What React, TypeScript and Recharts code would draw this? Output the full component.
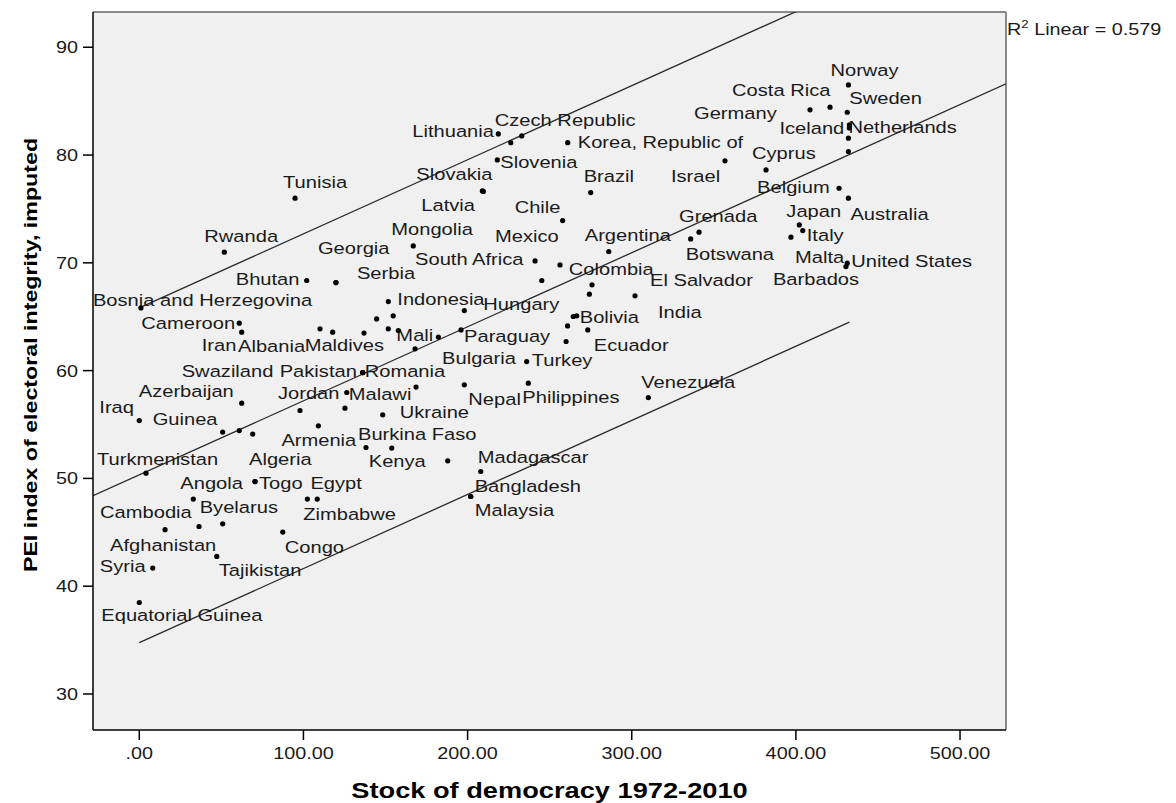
import { ScatterChart, Scatter, XAxis, YAxis, CartesianGrid, ReferenceLine } from "recharts";

const FONT = "'Liberation Sans', Arial, sans-serif";
const SX = 1.22; // the source renders text noticeably wider than Arial

// countries, in the same order as the two value arrays ("" = dot without a label)
const countries = [
    "Tunisia", "Rwanda", "Lithuania", "Czech Republic", "Slovenia", "Korea, Republic of", "Slovakia", "Latvia",
    "Brazil", "Israel", "Cyprus", "Chile", "Grenada", "Botswana", "Argentina", "South Africa",
    "Mexico", "Colombia", "El Salvador", "India", "Bolivia", "Ecuador", "Turkey", "Hungary",
    "Paraguay", "Mali", "Bulgaria", "Indonesia", "Mongolia", "Georgia", "Serbia", "Bhutan",
    "Bosnia and Herzegovina", "Cameroon", "Iran", "Albania", "Maldives", "Pakistan", "Romania", "Swaziland",
    "Azerbaijan", "Jordan", "Malawi", "Ukraine", "Nepal", "Philippines", "Venezuela", "Iraq",
    "Guinea", "Armenia", "Burkina Faso", "Kenya", "Madagascar", "Bangladesh", "Malaysia", "Turkmenistan",
    "Algeria", "Togo", "Angola", "Egypt", "Zimbabwe", "Cambodia", "Byelarus", "Afghanistan",
    "Congo", "Tajikistan", "Syria", "Equatorial Guinea", "Norway", "Costa Rica", "Germany", "Sweden",
    "Iceland", "Netherlands", "Belgium", "Australia", "Japan", "Italy", "Malta", "United States",
    "Barbados",
    "", "", "", "", "", "", "", "", "", "", "", "", "", "", "", "", "",
];

const stockOfDemocracy = [
    94.9, 51.8, 218.7, 233.0, 218.1, 261.0, 209.0, 209.6,
    275.0, 356.8, 381.8, 257.9, 341.0, 335.9, 286.0, 241.1,
    256.3, 245.2, 275.8, 302.0, 266.5, 273.2, 236.0, 198.0,
    196.0, 182.2, 168.0, 151.7, 166.9, 119.8, 119.8, 102.0,
    1.0, 60.9, 62.4, 110.1, 117.8, 136.1, 136.1, 136.1,
    62.4, 97.9, 126.4, 148.3, 198.0, 237.0, 310.1, 0.0,
    50.8, 109.1, 138.1, 187.9, 208.0, 201.9, 201.9, 4.1,
    70.5, 70.5, 32.9, 102.4, 108.4, 15.7, 50.8, 36.4,
    87.4, 47.2, 8.2, 0.0, 432.0, 420.8, 408.6, 431.3,
    432.6, 432.6, 426.3, 432.0, 402.1, 404.2, 397.0, 431.3,
    430.5,
    226.3, 274.2, 264.4, 260.9, 260.0, 154.7, 151.7, 157.8, 144.6, 136.9, 168.6, 125.3, 60.9, 69.1, 153.8, 432.0, 432.0,
];

const peiIndex = [
    76.0, 70.99, 81.96, 81.77, 79.55, 81.15, 76.67, 76.62,
    76.52, 79.46, 78.62, 73.92, 72.84, 72.22, 71.04, 70.18,
    69.81, 68.36, 67.96, 66.94, 65.08, 63.78, 60.84, 65.57,
    63.78, 63.11, 62.02, 66.41, 71.57, 68.17, 68.17, 68.36,
    65.82, 64.4, 63.57, 63.88, 63.57, 59.82, 59.82, 59.82,
    56.98, 56.3, 57.97, 55.9, 58.68, 58.84, 57.5, 55.37,
    54.3, 54.88, 52.87, 51.63, 50.64, 48.32, 48.32, 50.49,
    49.71, 49.71, 48.08, 48.08, 48.08, 45.24, 45.79, 45.54,
    45.02, 42.76, 41.68, 38.49, 86.5, 84.44, 84.19, 83.97,
    82.79, 82.52, 76.92, 76.0, 73.52, 72.99, 72.38, 69.97,
    69.65,
    81.15, 67.09, 65.02, 64.15, 62.7, 65.08, 63.88, 63.72, 64.8, 63.48, 58.47, 56.52, 54.44, 54.11, 52.81, 81.56, 80.32,
];

const xTicks = [0, 100, 200, 300, 400, 500];
const yTicks = [30, 40, 50, 60, 70, 80, 90];
const xDomain = [-28.2, 528];
const yDomain = [26.66, 93.27];

// fit line and the two prediction bounds (end points)
const fitLine = [{ x: -28.2, y: 48.39 }, { x: 528, y: 86.6 }];
const upperBound = [{ x: 0, y: 65.82 }, { x: 432.6, y: 95.54 }];
const lowerBound = [{ x: 0, y: 34.76 }, { x: 432.6, y: 64.5 }];

const rSquared = 0.579;

// where each country label sits relative to its dot (px, left edge / baseline)
const labelOffset: Record<string, [number, number]> = {
    "Tunisia": [-12, -10], "Rwanda": [-20, -10], "Lithuania": [-86, 3], "Czech Republic": [-27, -10],
    "Slovenia": [3, 8], "Korea, Republic of": [10, 5], "Slovakia": [-66, -11], "Latvia": [-62, 20],
    "Brazil": [-7, -11], "Israel": [-54, 21], "Cyprus": [-14, -11], "Chile": [-48, -8],
    "Grenada": [-20, -10], "Botswana": [-5, 21], "Argentina": [-24, -11], "South Africa": [-120, 4],
    "Mexico": [-65, -23], "Colombia": [27, -6], "El Salvador": [58, 1], "India": [23, 22],
    "Bolivia": [3, 7], "Ecuador": [6, 21], "Turkey": [5, 4], "Hungary": [19, -1],
    "Paraguay": [3, 12], "Mali": [-42, 4], "Bulgaria": [27, 15], "Indonesia": [9, 3],
    "Mongolia": [-22, -11], "Georgia": [-18, -29], "Serbia": [21, -4], "Bhutan": [-71, 4],
    "Bosnia and Herzegovina": [-48, -2], "Cameroon": [-98, 6], "Iran": [-40, 19], "Albania": [-82, 23],
    "Maldives": [-28, 19], "Pakistan": [-83, 4], "Romania": [2, 4], "Swaziland": [-181, 4],
    "Azerbaijan": [-103, -6], "Jordan": [-22, -12], "Malawi": [2, 7], "Ukraine": [17, 3],
    "Nepal": [4, 20], "Philippines": [-6, 20], "Venezuela": [-7, -10], "Iraq": [-40, -8],
    "Guinea": [-70, -7], "Armenia": [-37, 20], "Burkina Faso": [-8, -7], "Kenya": [-79, 6],
    "Madagascar": [-3, -9], "Bangladesh": [4, -5], "Malaysia": [4, 19], "Turkmenistan": [-49, -8],
    "Algeria": [-6, -17], "Togo": [4, 7], "Angola": [-13, -10], "Egypt": [3, -10],
    "Zimbabwe": [-14, 21], "Cambodia": [-65, -12], "Byelarus": [-23, -11], "Afghanistan": [-89, 25],
    "Congo": [2, 21], "Tajikistan": [2, 20], "Syria": [-53, 4], "Equatorial Guinea": [-38, 19],
    "Norway": [-18, -9], "Costa Rica": [-98, -11], "Germany": [-116, 9], "Sweden": [2, -8],
    "Iceland": [-70, 9], "Netherlands": [-1, 5], "Belgium": [-82, 5], "Australia": [2, 22],
    "Japan": [-13, -8], "Italy": [4, 10], "Malta": [4, 26], "United States": [4, 4],
    "Barbados": [-73, 18],
};

const points = countries.map((name, i) => ({ name, x: stockOfDemocracy[i], y: peiIndex[i] }));

function CountryDot(props: any) {
    const { cx, cy, payload } = props;
    const off = labelOffset[payload.name];
    return (
        <g>
            <circle cx={cx} cy={cy} r={2.6} fill="#000" />
            {off && (
                <text transform={`translate(${cx + off[0]},${cy + off[1]}) scale(${SX},1)`} fontSize={16.5} fontFamily={FONT} fill="#1a1a1a">
                    {payload.name}
                </text>
            )}
        </g>
    );
}

function XTick({ x, y, payload }: any) {
    const v = payload.value;
    return (
        <text transform={`translate(${x},${y + 17}) scale(1.2,1)`} textAnchor="middle" fontSize={16.5} fontFamily={FONT} fill="#1a1a1a">
            {v === 0 ? ".00" : v.toFixed(2)}
        </text>
    );
}

function YTick({ x, y, payload }: any) {
    return (
        <text transform={`translate(${x - 3},${y + 6}) scale(1.2,1)`} textAnchor="end" fontSize={16.5} fontFamily={FONT} fill="#1a1a1a">
            {payload.value}
        </text>
    );
}

function XTitle({ viewBox }: any) {
    return (
        <text transform={`translate(${viewBox.x + viewBox.width / 2},${viewBox.y + 68}) scale(1.21,1)`} textAnchor="middle" fontSize={22.5} fontWeight="bold" fontFamily={FONT} fill="#000">
            Stock of democracy 1972-2010
        </text>
    );
}

function YTitle({ viewBox }: any) {
    return (
        <text transform={`translate(37,${viewBox.y + viewBox.height / 2 - 16}) rotate(-90) scale(1.29,1)`} textAnchor="middle" fontSize={18} fontWeight="bold" fontFamily={FONT} fill="#000">
            PEI index of electoral integrity, imputed
        </text>
    );
}

function RSquaredLabel({ viewBox }: any) {
    return (
        <text transform={`translate(${viewBox.x + 1},${viewBox.y + 23}) scale(1.2,1)`} fontSize={16.5} fontFamily={FONT} fill="#1a1a1a">
            R<tspan dy={-7} fontSize={11}>2</tspan>
            <tspan dy={7} fontSize={16.5}>{` Linear = ${rSquared}`}</tspan>
        </text>
    );
}

export default function App() {
    return (
        <div style={{ position: "absolute", left: 0, top: 0, width: 1176, height: 803, background: "#fff" }}>
            <ScatterChart width={1176} height={803} margin={{ top: 12, right: 170, bottom: 0, left: 0 }}>
                <CartesianGrid horizontal={false} vertical={false} fill="#f0f0f0" fillOpacity={1} stroke="none" />
                <XAxis
                    type="number"
                    dataKey="x"
                    domain={xDomain}
                    ticks={xTicks}
                    allowDataOverflow
                    height={73}
                    tickSize={10}
                    tick={<XTick />}
                    axisLine={{ stroke: "#000", strokeWidth: 1.5 }}
                    tickLine={{ stroke: "#000", strokeWidth: 1.5 }}
                    label={<XTitle />}
                />
                <YAxis
                    type="number"
                    dataKey="y"
                    domain={yDomain}
                    ticks={yTicks}
                    allowDataOverflow
                    width={93}
                    tickSize={10}
                    tick={<YTick />}
                    axisLine={{ stroke: "#000", strokeWidth: 1.5 }}
                    tickLine={{ stroke: "#000", strokeWidth: 1.5 }}
                    label={<YTitle />}
                />
                <ReferenceLine y={yDomain[1]} stroke="#8a8a8a" strokeWidth={2} />
                <ReferenceLine x={xDomain[1]} stroke="#8a8a8a" strokeWidth={2} label={<RSquaredLabel />} />
                <ReferenceLine segment={fitLine} stroke="#2a2a2a" strokeWidth={1.3} ifOverflow="hidden" />
                <ReferenceLine segment={upperBound} stroke="#2a2a2a" strokeWidth={1.3} ifOverflow="hidden" />
                <ReferenceLine segment={lowerBound} stroke="#2a2a2a" strokeWidth={1.3} ifOverflow="hidden" />
                <Scatter data={points} shape={<CountryDot />} isAnimationActive={false} />
            </ScatterChart>
        </div>
    );
}
